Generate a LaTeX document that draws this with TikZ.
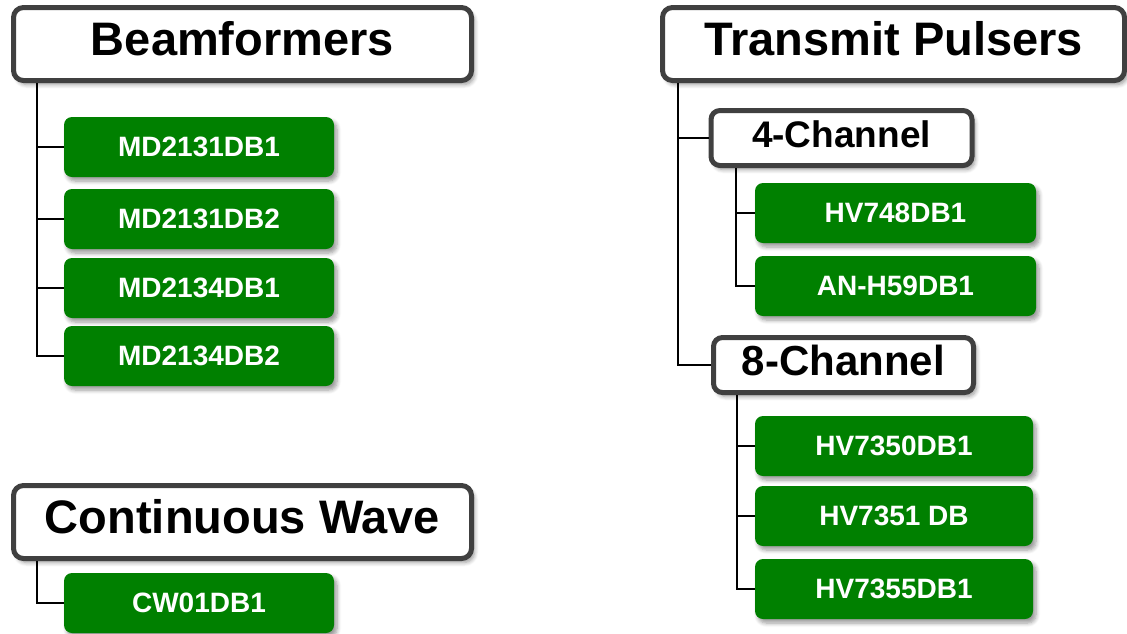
\documentclass[tikz,border=0pt]{standalone}
\usepackage{fontspec}
\setmainfont{Liberation Sans}
\usetikzlibrary{shadows.blur}
\definecolor{boardgreen}{RGB}{0,128,0}
\definecolor{rimgray}{RGB}{64,64,64}

\begin{document}
\begin{tikzpicture}[x=1pt,y=-1pt,
	softshadow/.style={blur shadow={shadow xshift=3pt, shadow yshift=-4pt, shadow blur steps=6, shadow blur radius=4pt, shadow opacity=40}},
	head/.style={draw=rimgray, line width=5pt, fill=white, rounded corners=10pt, minimum width=458pt, minimum height=73pt, inner sep=0pt, text height=34pt, text depth=12pt, font=\bfseries\fontsize{47}{50}\selectfont, softshadow},
	subhead/.style={draw=rimgray, line width=5pt, fill=white, rounded corners=9pt, minimum width=261pt, minimum height=55pt, inner sep=0pt, text height=27pt, text depth=9pt, font=\bfseries\fontsize{37}{40}\selectfont, softshadow},
	board/.style={fill=boardgreen, text=white, rounded corners=8pt, minimum width=270pt, minimum height=60pt, inner sep=0pt, font=\bfseries\fontsize{28}{30}\selectfont, softshadow},
	link/.style={line width=2pt}]
			\useasboundingbox (0,0) rectangle (1127,633);
			\node[head] (bf) at (242.5,44) {Beamformers};
			\node[board] (md1) at (199,147) {MD2131DB1};
			\node[board] (md2) at (199,219) {MD2131DB2};
			\node[board] (md3) at (199,288) {MD2134DB1};
			\node[board] (md4) at (199,356) {MD2134DB2};
			\node[head] (cw) at (242.5,522) {Continuous Wave};
			\node[board] (cw1) at (199,603) {CW01DB1};
			\node[head, minimum width=462pt] (tp) at (893.5,44) {Transmit Pulsers};
			\node[subhead] (ch4) at (841.5,138) {4-Channel};
			\node[board, minimum width=281pt] (hv748) at (895.5,213) {HV748DB1};
			\node[board, minimum width=281pt] (anh59) at (895.5,286) {AN-H59DB1};
			\node[subhead, minimum width=260pt, text height=31pt, text depth=10pt, font=\bfseries\fontsize{42}{44}\selectfont] (ch8) at (843.5,365) {8-Channel};
			\node[board, minimum width=278pt] (hv7350) at (894,446) {HV7350DB1};
			\node[board, minimum width=278pt] (hv7351) at (894,516) {HV7351 DB};
			\node[board, minimum width=278pt] (hv7355) at (894,589) {HV7355DB1};
			\coordinate (bfroot) at ([xshift=26pt]bf.south west);
			\coordinate (cwroot) at ([xshift=26pt]cw.south west);
			\coordinate (tproot) at ([xshift=18pt]tp.south west);
			\coordinate (ch4root) at ([xshift=27pt]ch4.south west);
			\coordinate (ch8root) at ([xshift=26pt]ch8.south west);
			\foreach \n in {md1,md2,md3,md4}
				\draw[link] (bfroot) |- (\n.west);
			\draw[link] (cwroot) |- (cw1.west);
			\draw[link] (tproot) |- (ch4.west);
			\draw[link] (tproot) |- (ch8.west);
			\foreach \n in {hv748,anh59}
				\draw[link] (ch4root) |- (\n.west);
			\foreach \n in {hv7350,hv7351,hv7355}
				\draw[link] (ch8root) |- (\n.west);
		\end{tikzpicture}
\end{document}
